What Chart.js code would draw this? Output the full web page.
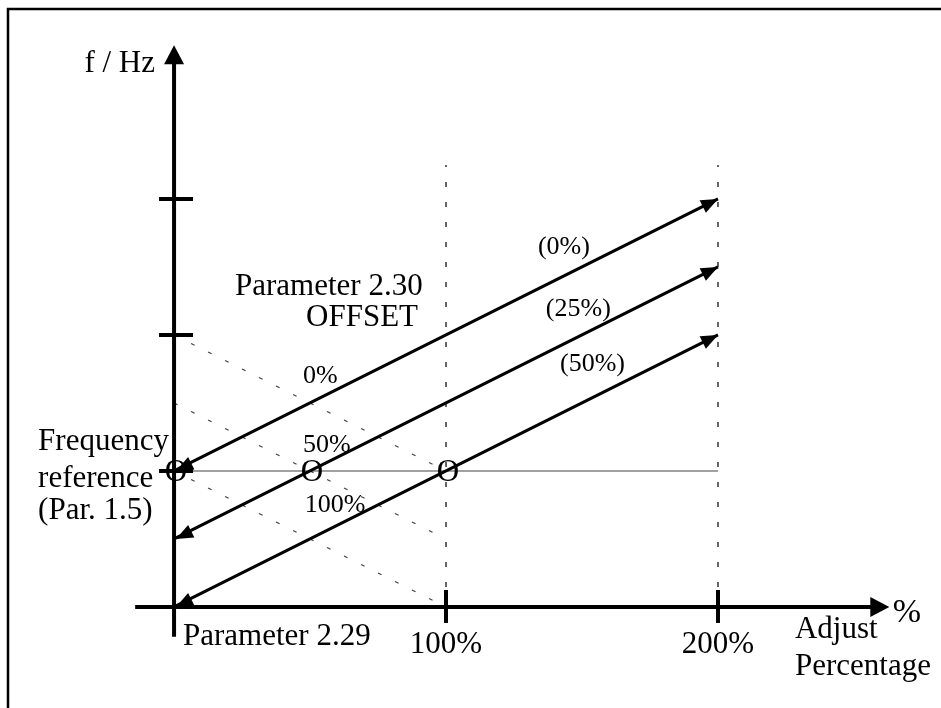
<!DOCTYPE html>
<html>
<head>
<meta charset="utf-8">
<script src="https://cdn.jsdelivr.net/npm/chart.js@4"></script>
<style>
  html, body { margin: 0; padding: 0; background: #fff; }
  canvas { display: block; }
</style>
</head>
<body>
<canvas id="offsetChart" width="941" height="708"></canvas>
<script>
// adjust percentage at both ends of the solid arrows
const adjustRange = [0, 200];
const offsetCurveLabels = ['(0%)', '(25%)', '(50%)'];
const freqAtZero = [1, 0.5, 0];
const freqAtMax = [3, 2.5, 2];

// dotted guides for Par. 2.30 = 0%, 50%, 100%
const offsetGuideLabels = ['0%', '50%', '100%'];
const guideRange = [0, 100];
const guideStart = [2, 1.5, 1];
const guideEnd = [1, 0.5, 0];

const freqReference = 1;
const crossingX = [0, 50, 100];

const xTickValues = [100, 200];
const xTickLabels = ['100%', '200%'];
const yTickValues = [1, 2, 3];
const markerTop = 3.25;

// axis extents (data units)
const xAxisFrom = -14.3, xAxisTo = 263;
const yAxisFrom = -0.22, yAxisTo = 4.13;

const serif = '"Liberation Serif", "Times New Roman", serif';

// text annotations, placed in data units
const notes = [
  { text: 'f / Hz', x: -7, y: 3.93, align: 'right', size: 31 },
  { text: 'Parameter 2.30', x: 22.4, y: 2.294, align: 'left', size: 31 },
  { text: 'OFFSET', x: 89.7, y: 2.066, align: 'right', size: 31 },
  { text: 'Frequency', x: -50, y: 1.154, align: 'left', size: 31 },
  { text: 'reference', x: -50, y: 0.882, align: 'left', size: 31 },
  { text: '(Par. 1.5)', x: -50, y: 0.647, align: 'left', size: 31 },
  { text: 'Parameter 2.29', x: 3.3, y: -0.279, align: 'left', size: 31 },
  { text: '%', x: 264.3, y: -0.11, align: 'left', size: 34 },
  { text: 'Adjust', x: 228.3, y: -0.228, align: 'left', size: 31 },
  { text: 'Percentage', x: 228.3, y: -0.5, align: 'left', size: 31 }
];
const curveLabelPos = [[133.8, 2.596], [136.7, 2.14], [141.9, 1.735]];
const guideLabelPos = [[47.4, 1.647], [47.4, 1.14], [48.1, 0.70]];

const datasets = [];
offsetCurveLabels.forEach((lbl, i) => {
  datasets.push({
    label: lbl,
    data: [{ x: adjustRange[0], y: freqAtZero[i] }, { x: adjustRange[1], y: freqAtMax[i] }],
    showLine: true, borderColor: '#000', borderWidth: 3, pointRadius: 0,
    arrows: true
  });
});
offsetGuideLabels.forEach((lbl, i) => {
  datasets.push({
    label: 'guide ' + lbl,
    data: [{ x: guideRange[0], y: guideStart[i] }, { x: guideRange[1], y: guideEnd[i] }],
    showLine: true, borderColor: '#444', borderWidth: 1.2, borderDash: [4, 15], pointRadius: 0
  });
});
datasets.push({
  label: 'reference',
  data: [{ x: adjustRange[0], y: freqReference }, { x: adjustRange[1], y: freqReference }],
  showLine: true, borderColor: '#808080', borderWidth: 1.5, pointRadius: 0
});
xTickValues.forEach(v => {
  datasets.push({
    label: 'marker ' + v,
    data: [{ x: v, y: 0 }, { x: v, y: markerTop }],
    showLine: true, borderColor: '#333', borderWidth: 1.5, borderDash: [5, 15], pointRadius: 0
  });
});

function arrowHead(ctx, tx, ty, fx, fy, len, half) {
  const a = Math.atan2(ty - fy, tx - fx);
  ctx.beginPath();
  ctx.moveTo(tx, ty);
  ctx.lineTo(tx - len * Math.cos(a) + half * Math.sin(a), ty - len * Math.sin(a) - half * Math.cos(a));
  ctx.lineTo(tx - len * Math.cos(a) - half * Math.sin(a), ty - len * Math.sin(a) + half * Math.cos(a));
  ctx.closePath();
  ctx.fill();
}

const diagramPlugin = {
  id: 'diagram',
  beforeDraw(chart) {
    const ctx = chart.ctx;
    ctx.save();
    ctx.strokeStyle = '#000';
    ctx.lineWidth = 2.5;
    ctx.strokeRect(8, 9, 960, 740);
    ctx.restore();
  },
  afterDatasetsDraw(chart) {
    const ctx = chart.ctx;
    const xs = chart.scales.x, ys = chart.scales.y;
    const X = v => xs.getPixelForValue(v), Y = v => ys.getPixelForValue(v);
    const x0 = X(0), y0 = Y(0);
    ctx.save();
    ctx.fillStyle = '#000';
    ctx.strokeStyle = '#000';

    // axes
    ctx.lineWidth = 4;
    ctx.beginPath();
    ctx.moveTo(x0, Y(yAxisFrom));
    ctx.lineTo(x0, Y(yAxisTo) + 16);
    ctx.moveTo(X(xAxisFrom), y0);
    ctx.lineTo(X(xAxisTo) - 16, y0);
    ctx.stroke();
    arrowHead(ctx, x0, Y(yAxisTo), x0, y0, 19, 10);
    arrowHead(ctx, X(xAxisTo), y0, x0, y0, 19, 10);

    // ticks
    yTickValues.forEach(v => {
      ctx.beginPath();
      ctx.moveTo(x0 - 15, Y(v));
      ctx.lineTo(x0 + 19, Y(v));
      ctx.stroke();
    });
    xTickValues.forEach(v => {
      ctx.beginPath();
      ctx.moveTo(X(v), y0 - 17);
      ctx.lineTo(X(v), y0 + 16);
      ctx.stroke();
    });

    // arrowheads on the offset lines
    chart.data.datasets.forEach((ds, i) => {
      if (!ds.arrows) return;
      const pts = chart.getDatasetMeta(i).data;
      const a = pts[0], b = pts[1];
      arrowHead(ctx, b.x, b.y, a.x, a.y, 17, 7);
      arrowHead(ctx, a.x + 2, a.y, b.x, b.y, 17, 7);
    });

    // crossing markers on the frequency reference
    ctx.font = '31px ' + serif;
    ctx.textAlign = 'center';
    ctx.textBaseline = 'alphabetic';
    crossingX.forEach(v => ctx.fillText('O', X(v) + 2, Y(freqReference) + 10.5));

    // tick labels
    xTickLabels.forEach((t, i) => ctx.fillText(t, X(xTickValues[i]), Y(-0.338)));

    notes.forEach(n => {
      ctx.font = n.size + 'px ' + serif;
      ctx.textAlign = n.align;
      ctx.fillText(n.text, X(n.x), Y(n.y));
    });

    ctx.font = '26px ' + serif;
    ctx.textAlign = 'left';
    offsetCurveLabels.forEach((t, i) => ctx.fillText(t, X(curveLabelPos[i][0]), Y(curveLabelPos[i][1])));
    offsetGuideLabels.forEach((t, i) => ctx.fillText(t, X(guideLabelPos[i][0]), Y(guideLabelPos[i][1])));
    ctx.restore();
  }
};

new Chart(document.getElementById('offsetChart').getContext('2d'), {
  type: 'scatter',
  data: { datasets: datasets },
  options: {
    responsive: false,
    animation: false,
    devicePixelRatio: 1,
    layout: { padding: 0 },
    plugins: { legend: { display: false }, tooltip: { enabled: false } },
    scales: {
      x: { type: 'linear', display: false, min: -64, max: 282 },
      y: { type: 'linear', display: false, min: -0.743, max: 4.463 }
    }
  },
  plugins: [diagramPlugin]
});
</script>
</body>
</html>
